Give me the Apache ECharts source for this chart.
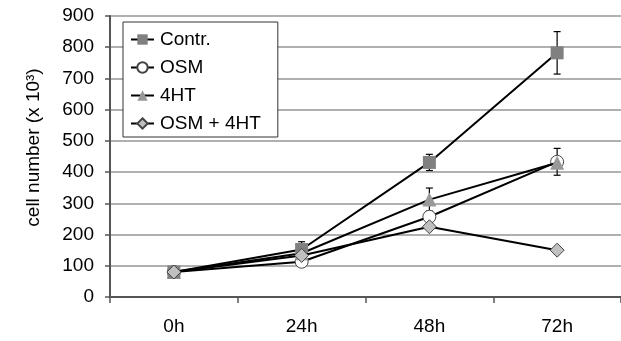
<!DOCTYPE html>
<html><head><meta charset="utf-8">
<script src="https://cdn.jsdelivr.net/npm/echarts@6/dist/echarts.min.js"></script>
<style>html,body{margin:0;padding:0;background:#fff}#c{width:621px;height:341px}</style>
</head><body><div id="c"></div>
<script>
const categories = ['0h', '24h', '48h', '72h'];
const contr = [80, 152, 431, 782];
const contrErr = [0, 25, 26, 68];
const osm = [80, 113, 257, 433];
const osmErr = [0, 0, 0, 43];
const ht4 = [80, 140, 312, 430];
const ht4Err = [0, 0, 37, 0];
const osmHt4 = [80, 133, 225, 150];
const osmHt4Err = [0, 0, 0, 0];
const yTicks = [0, 900, 100];

const font = 'Liberation Sans, Arial, sans-serif';
function errData(vals, errs) {
  const out = [];
  vals.forEach((v, i) => { if (errs[i] > 0) out.push([i, v - errs[i], v + errs[i]]); });
  return out;
}
function errSeries(vals, errs) {
  return {
    type: 'custom', z: 1, silent: true,
    data: errData(vals, errs),
    encode: { x: 0, y: [1, 2] },
    renderItem: function (params, api) {
      const lo = api.coord([api.value(0), api.value(1)]);
      const hi = api.coord([api.value(0), api.value(2)]);
      const w = 3.5;
      const st = { stroke: '#000', lineWidth: 1.2 };
      return { type: 'group', children: [
        { type: 'line', shape: { x1: lo[0], y1: lo[1], x2: hi[0], y2: hi[1] }, style: st },
        { type: 'line', shape: { x1: lo[0] - w, y1: lo[1], x2: lo[0] + w, y2: lo[1] }, style: st },
        { type: 'line', shape: { x1: hi[0] - w, y1: hi[1], x2: hi[0] + w, y2: hi[1] }, style: st }
      ] };
    }
  };
}
function lineSeries(name, vals, symbol, size, fill, z) {
  const solid = symbol === 'rect' || symbol === 'triangle';
  return {
    name: name, type: 'line', data: vals, z: z,
    symbol: symbol, symbolSize: size, showAllSymbol: true,
    lineStyle: { color: '#000', width: 2 },
    itemStyle: { color: fill, borderColor: solid ? fill : '#444', borderWidth: solid ? 0 : 1 },
    emphasis: { disabled: true }
  };
}
const chart = echarts.init(document.getElementById('c'));
chart.setOption({
  animation: false,
  grid: { left: 110, right: -4, top: 16, bottom: 44 },
  legend: {
    orient: 'vertical', left: 123, top: 22,
    padding: [8, 17, 4, 7],
    itemGap: 9, itemWidth: 23, itemHeight: 13,
    borderColor: '#333', borderWidth: 1,
    backgroundColor: '#fff',
    textStyle: { fontFamily: font, fontSize: 19, color: '#000', padding: [0, 0, 0, 1] },
    data: ['Contr.', 'OSM', '4HT', 'OSM + 4HT']
  },
  xAxis: {
    type: 'category', data: categories, boundaryGap: true,
    axisLine: { lineStyle: { color: '#555', width: 2 } },
    axisTick: { show: true, length: 6, lineStyle: { color: '#555', width: 1.5 } },
    axisLabel: { fontFamily: font, fontSize: 19, color: '#000', margin: 20 },
    splitLine: { show: false }
  },
  yAxis: {
    type: 'value', min: yTicks[0], max: yTicks[1], interval: yTicks[2],
    name: 'cell number (x 10³)', nameLocation: 'middle', nameGap: 67, nameRotate: 90,
    nameTextStyle: { fontFamily: font, fontSize: 19, color: '#000', padding: [0, 0, 0, 18] },
    axisLine: { show: true, lineStyle: { color: '#555', width: 2 } },
    axisTick: { show: true, length: 5, lineStyle: { color: '#555', width: 1.5 } },
    axisLabel: { fontFamily: font, fontSize: 19, color: '#000', margin: 16 },
    splitLine: { lineStyle: { color: '#b0b0b0', width: 2 } }
  },
  series: [
    errSeries(contr, contrErr), errSeries(osm, osmErr), errSeries(ht4, ht4Err), errSeries(osmHt4, osmHt4Err),
    lineSeries('Contr.', contr, 'rect', 13, '#808080', 6),
    lineSeries('OSM', osm, 'circle', 13, '#fff', 4),
    lineSeries('4HT', ht4, 'triangle', 14, '#999999', 5),
    lineSeries('OSM + 4HT', osmHt4, 'diamond', 14, '#c0c0c0', 7)
  ]
});
</script></body></html>
